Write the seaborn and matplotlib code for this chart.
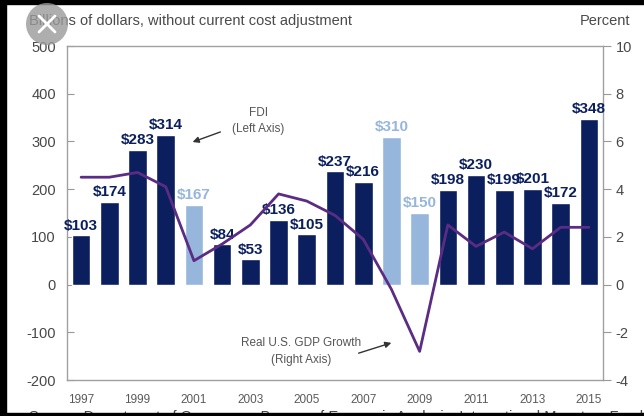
import numpy as np
import pandas as pd
import matplotlib
matplotlib.use("Agg")
import matplotlib.pyplot as plt
from matplotlib.patches import Circle, Rectangle
from matplotlib.transforms import IdentityTransform
import seaborn as sns

years = [str(y) for y in range(1997, 2016)]
fdi = [103, 174, 283, 314, 167, 84, 53, 136, 105, 237, 216, 310, 150, 198, 230, 199, 201, 172, 348]
kind = ["dark", "dark", "dark", "dark", "light", "dark", "dark", "dark", "dark", "dark",
        "dark", "light", "light", "dark", "dark", "dark", "dark", "dark", "dark"]
gdp = [4.5, 4.5, 4.7, 4.1, 1.0, 1.7, 2.5, 3.8, 3.5, 2.9, 1.9, -0.2, -2.8, 2.5, 1.6, 2.2, 1.5, 2.4, 2.4]
year_ticks = [str(y) for y in range(1997, 2016, 2)]

NAVY = "#0b1f5e"
LIGHT = "#97b6dc"
PURPLE = "#5b2c84"
GREY_TXT = "#484848"

sns.set_style("white")
plt.rcParams["font.family"] = ["Liberation Sans", "DejaVu Sans"]
plt.rcParams["axes.unicode_minus"] = False

W, H = 644, 416
fig = plt.figure(figsize=(W / 100, H / 100), dpi=100)
ax = fig.add_axes([67 / W, 1 - 380 / H, (603 - 67) / W, (380 - 46) / H])

df = pd.DataFrame({"year": years, "fdi": fdi, "kind": kind})
sns.barplot(data=df, x="year", y="fdi", hue="kind", hue_order=["dark", "light"],
            palette={"dark": NAVY, "light": LIGHT}, dodge=False, width=0.66,
            saturation=1, legend=False, ax=ax)

for cont, col in zip(ax.containers, [NAVY, LIGHT]):
    labels = [f"${b.get_height():.0f}" for b in cont]
    ax.bar_label(cont, labels=labels, padding=2, color=col, fontsize=11,
                 fontweight="bold")

ax.set_xlim(-0.5, len(years) - 0.5)
ax.set_ylim(-200, 500)
ax.set_yticks(range(-200, 501, 100))
ax.set_xticks([years.index(y) for y in year_ticks])
ax.set_xticklabels(year_ticks)
ax.set_xlabel("")
ax.set_ylabel("")
ax.tick_params(axis="y", direction="in", length=5, width=0.8, color="#999999",
               labelsize=10.5, labelcolor=GREY_TXT, pad=8)
ax.tick_params(axis="x", length=0, labelsize=8.5, labelcolor="#5a5a5a", pad=10)
for s in ax.spines.values():
    s.set_visible(True)
    s.set_color("#a0a0a0")
    s.set_linewidth(1.0)

ax2 = ax.twinx()
sns.lineplot(x=np.arange(len(years)), y=gdp, color=PURPLE, linewidth=2, ax=ax2)
ax2.set_ylim(-4, 10)
ax2.set_yticks(range(-4, 11, 2))
ax2.tick_params(axis="y", direction="out", length=6, width=0.8, color="#999999",
                labelsize=10.5, labelcolor=GREY_TXT, pad=3)
for s in ax2.spines.values():
    s.set_visible(False)
ax2.set_xlim(-0.5, len(years) - 0.5)

# axis captions
fig.text(29 / W, 1 - 21 / H, "Billions of dollars, without current cost adjustment",
         fontsize=10.5, color="#4a4a4a", va="center", ha="left")
fig.text(630 / W, 1 - 21 / H, "Percent", fontsize=10.5, color="#4a4a4a",
         va="center", ha="right")

# series callouts
fig.text(258 / W, 1 - 113 / H, "FDI", fontsize=8.5, color="#555555", ha="center", va="center")
fig.text(258 / W, 1 - 129 / H, "(Left Axis)", fontsize=8.5, color="#555555", ha="center", va="center")
ax.annotate("", xy=(190, H - 143), xytext=(223, H - 131), xycoords="figure pixels",
            textcoords="figure pixels",
            arrowprops=dict(arrowstyle="-|>", color="#333333", lw=1, mutation_scale=9))
fig.text(301 / W, 1 - 343 / H, "Real U.S. GDP Growth", fontsize=8.5, color="#555555",
         ha="center", va="center")
fig.text(301 / W, 1 - 360 / H, "(Right Axis)", fontsize=8.5, color="#555555",
         ha="center", va="center")
ax.annotate("", xy=(394, H - 342), xytext=(356, H - 354), xycoords="figure pixels",
            textcoords="figure pixels",
            arrowprops=dict(arrowstyle="-|>", color="#333333", lw=1, mutation_scale=9))

# source line along the lower edge
fig.text(29 / W, (H - 417) / H,
         "Source: Department of Commerce, Bureau of Economic Analysis; International Monetary Fund",
         fontsize=10.5, color="#444444", ha="left", va="center")

# dark frame
frame = dict(transform=IdentityTransform(), color="black", zorder=10)
fig.add_artist(Rectangle((0, 0), 6, H, **frame))
fig.add_artist(Rectangle((0, H - 4), W, 4, **frame))
fig.add_artist(Rectangle((0, 0), W, 3, **frame))

# close button
cx, cy, r = 47, H - 24, 21
fig.add_artist(Circle((cx, cy), r, transform=IdentityTransform(), color="#9a9a9a",
                      alpha=0.8, zorder=11, lw=0))
d = 8
for sx in (-1, 1):
    fig.add_artist(plt.Line2D([cx - d, cx + d], [cy - sx * d, cy + sx * d],
                              transform=IdentityTransform(), color="white", lw=2, zorder=12))

fig.savefig("out.png", dpi=100)
